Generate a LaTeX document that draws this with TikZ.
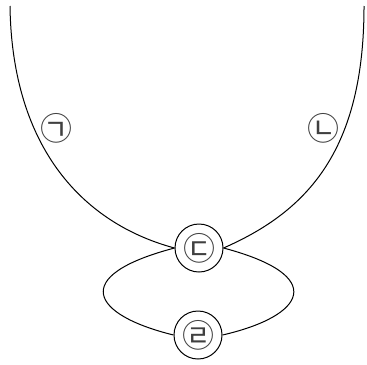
\documentclass[tikz,border=0pt]{standalone}
\usepackage{fontspec}
\newfontfamily\kor{Noto Sans CJK KR}
\usepackage{tikz}

\begin{document}
\begin{tikzpicture}[x=0.5pt,y=-0.5pt,line width=0.5pt,
  jamo/.style={font=\kor\fontsize{16}{16}\selectfont,text=black!75,inner sep=0pt},
  ring/.style={jamo,draw=black,circle,minimum size=24pt}]
\useasboundingbox (0,0) rectangle (367,364);
\node[ring] (d) at (199,248) {㉢};
\node[ring] (r) at (198,335) {㉣};
\node[jamo] (g) at (56,128) {㉠};
\node[jamo] (n) at (323,128) {㉡};
\coordinate (tl) at (10,6);
\coordinate (tr) at (364,6);
\draw (tl) .. controls (12,150) and (85,224) .. (d.west);
\draw (tr) .. controls (364,150) and (308,211) .. (d.east);
\draw (d.west) .. controls (68,276) and (92,315) .. (r.west);
\draw (d.east) .. controls (329,276) and (305,316) .. (r.east);
\end{tikzpicture}
\end{document}
